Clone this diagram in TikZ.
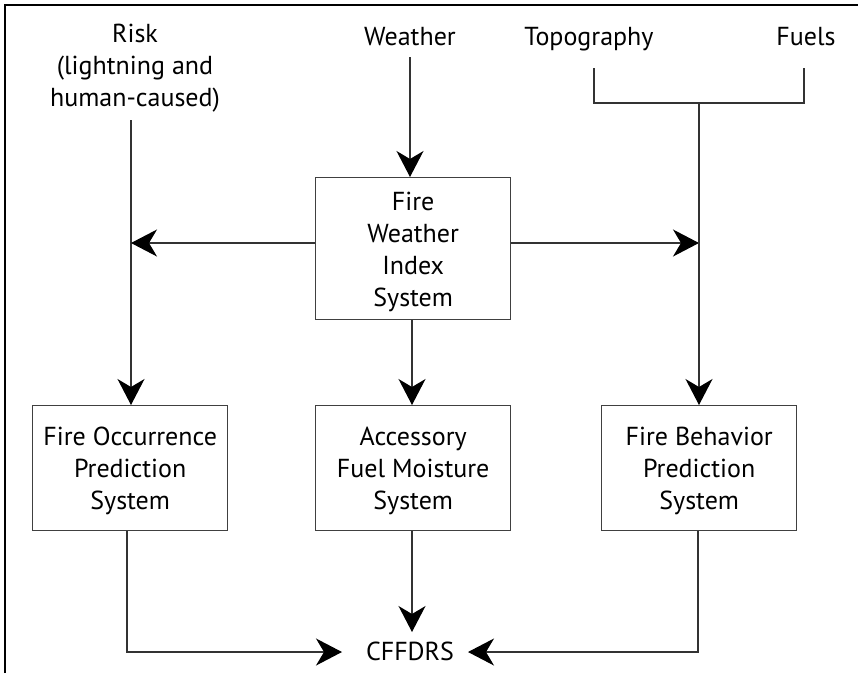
\documentclass[tikz,border=0pt]{standalone}
\usepackage{fontspec}
\setmainfont{PT Sans}
\usetikzlibrary{arrows.meta}
\begin{document}
\begin{tikzpicture}[x=1pt,y=-1pt,
  box/.style={draw=black!75, line width=1.4pt, minimum width=195pt, minimum height=125pt, anchor=north west, inner sep=0pt},
  lbl/.style={font=\fontsize{26}{32}\selectfont, align=center, inner sep=0pt},
  ln/.style={draw=black!80, line width=1.2pt},
  arr/.style={ln, -{Stealth[length=26pt,width=27pt,inset=8pt,color=black]}}]
\useasboundingbox (0,0) rectangle (858,673);
\draw[line width=2pt] (5,673) -- (5,5) -- (858,5);
% sources
\node[lbl] (risk) at (135,68) {Risk\\(lightning and\\human-caused)};
\node[lbl, anchor=base] (weather) at (410,45) {Weather};
\node[lbl, anchor=base] (topo) at (589,45) {Topography};
\node[lbl, anchor=base] (fuels) at (806,45) {Fuels};
% boxes
\node[box, minimum height=142pt] (fwi) at (315,177) {};
\node[lbl] at ([yshift=-3pt]fwi.center) {Fire\\Weather\\Index\\System};
\node[box] (fop) at (32,405) {};
\node[lbl] at ([yshift=-3pt]fop.center) {Fire Occurrence\\Prediction\\System};
\node[box] (afm) at (315,405) {};
\node[lbl] at ([yshift=-3pt]afm.center) {Accessory\\Fuel Moisture\\System};
\node[box] (fbp) at (601,405) {};
\node[lbl] at ([yshift=-3pt]fbp.center) {Fire Behavior\\Prediction\\System};
\node[lbl, anchor=base] (cff) at (410,660) {CFFDRS};
% coordinates
\coordinate (rtop) at (131,120);
\coordinate (lj) at (131,243);
\coordinate (rj) at (699,243);
\coordinate (bt) at (594,68);
\coordinate (bf) at (804,68);
\coordinate (bm) at (699,103);
% connectors
\draw[arr] (410,57) -- (fwi.north -| 410,0);
\draw[arr] (rtop) -- (fop.north -| rtop);
\draw[arr] (fwi.west |- lj) -- (lj);
\draw[arr] (fwi.east |- rj) -- (rj);
\draw[ln] (bt) |- (bm) -| (bf);
\draw[arr] (bm) -- (fbp.north -| bm);
\draw[arr] (fwi.south -| 412,0) -- (afm.north -| 412,0);
\draw[arr] (afm.south -| 412,0) -- (412,632);
\draw[arr] (fop.south -| 127,0) |- (342,652);
\draw[arr] (fbp.south -| 698,0) |- (468,652);
\end{tikzpicture}
\end{document}
